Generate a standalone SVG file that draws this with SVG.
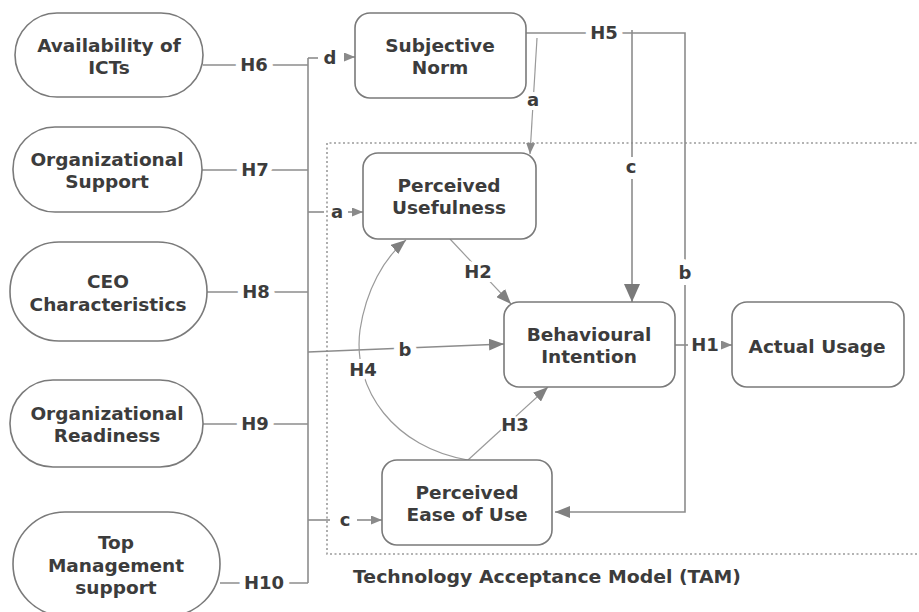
<svg xmlns="http://www.w3.org/2000/svg" width="919" height="612" viewBox="0 0 919 612">
<defs>
<style>
.n{fill:#fff;stroke:#7a7a7a;stroke-width:1.6}
.t{font-family:"DejaVu Sans","Liberation Sans",sans-serif;font-weight:bold;font-size:18.5px;fill:#3c3c3c;text-anchor:middle}
.l{font-family:"DejaVu Sans","Liberation Sans",sans-serif;font-weight:bold;font-size:18px;fill:#3c3c3c;text-anchor:middle;stroke:#fff;stroke-width:12px;paint-order:stroke;stroke-linejoin:round}
.c{fill:none;stroke:#8c8c8c;stroke-width:1.6}
.thin{fill:none;stroke:#9a9a9a;stroke-width:1.2}
.dot{fill:none;stroke:#9a9a9a;stroke-width:1.6;stroke-dasharray:2 2.5}
</style>
<marker id="am" markerUnits="userSpaceOnUse" markerWidth="16" markerHeight="12" refX="15" refY="6" orient="auto"><path d="M0,0 L15,6 L0,12 z" fill="#808080"/></marker>
<marker id="as" markerUnits="userSpaceOnUse" markerWidth="12" markerHeight="10" refX="11" refY="4.5" orient="auto"><path d="M0,0 L11,4.5 L0,9 z" fill="#8a8a8a"/></marker>
<marker id="ab" markerUnits="userSpaceOnUse" markerWidth="19" markerHeight="16" refX="18" refY="8" orient="auto"><path d="M0,0 L18,8 L0,16 z" fill="#7a7a7a"/></marker>
</defs>
<rect width="919" height="612" fill="#fff"/>

<g id="tam-boundary">
<path class="dot" d="M930,143 H327 V554 H930"/>
<text class="t" x="547" y="583" textLength="388" lengthAdjust="spacingAndGlyphs">Technology Acceptance Model (TAM)</text>
</g>

<g id="connectors">
<path class="c" d="M308,58 V583" stroke-width="2"/>
<path class="c" d="M203,65 H308"/>
<path class="c" d="M202,170 H308"/>
<path class="c" d="M207,292 H308"/>
<path class="c" d="M203,424 H308"/>
<path class="c" d="M220,583 H308"/>
<text class="l" x="254" y="71">H6</text>
<text class="l" x="255" y="176">H7</text>
<text class="l" x="256" y="298">H8</text>
<text class="l" x="255" y="430">H9</text>
<text class="l" x="264" y="589">H10</text>
<path class="c" d="M308,58 H318"/>
<text class="l" x="330" y="64" style="stroke-width:6px">d</text>
<path class="c" d="M344,57 H355" marker-end="url(#as)"/>
<path class="c" d="M308,212 H324"/>
<text class="l" x="337" y="218" style="stroke-width:6px">a</text>
<path class="c" d="M348,212 H363" marker-end="url(#as)"/>
<path class="c" d="M308,352 L504,344" marker-end="url(#am)"/>
<text class="l" x="405" y="356">b</text>
<path class="c" d="M308,520 H330"/>
<text class="l" x="345" y="526" style="stroke-width:6px">c</text>
<path class="c" d="M357,520 H382" marker-end="url(#as)"/>
<path class="c" d="M526,33 H685 V512 H555" marker-end="url(#am)"/>
<path class="c" d="M632,30 V302" stroke-width="2" marker-end="url(#ab)"/>
<text class="l" x="604" y="39">H5</text>
<text class="l" x="631" y="173">c</text>
<text class="l" x="685" y="279">b</text>
<path class="thin" d="M537,38 L530,154" marker-end="url(#as)"/>
<text class="l" x="533" y="106" style="stroke-width:8px">a</text>
<path class="thin" d="M450,239 L511,304" marker-end="url(#am)"/>
<text class="l" x="478" y="278" style="stroke-width:8px">H2</text>
<path class="thin" d="M468,460 L548,387" marker-end="url(#am)"/>
<text class="l" x="515" y="431" style="stroke-width:4px">H3</text>
<path class="thin" d="M468,460 C395,448 352,390 360,330 C366,290 384,258 406,240" marker-end="url(#am)"/>
<text class="l" x="363" y="376" style="stroke-width:8px">H4</text>
<path class="c" d="M675,345 H688"/>
<text class="l" x="705" y="351" style="stroke-width:6px">H1</text>
<path class="c" d="M722,345 H732" marker-end="url(#as)"/>
</g>

<g id="availability-of-icts">
<rect class="n" x="15" y="13" width="188" height="84" rx="42"/>
<text class="t" x="109" y="52">Availability of</text>
<text class="t" x="109" y="74">ICTs</text>
</g>
<g id="organizational-support">
<rect class="n" x="13" y="127" width="189" height="85" rx="42"/>
<text class="t" x="107" y="166">Organizational</text>
<text class="t" x="107" y="188">Support</text>
</g>
<g id="ceo-characteristics">
<rect class="n" x="10" y="242" width="197" height="99" rx="49"/>
<text class="t" x="108" y="288">CEO</text>
<text class="t" x="108" y="311">Characteristics</text>
</g>
<g id="organizational-readiness">
<rect class="n" x="10" y="380" width="193" height="87" rx="43"/>
<text class="t" x="107" y="420">Organizational</text>
<text class="t" x="107" y="442">Readiness</text>
</g>
<g id="top-management-support">
<rect class="n" x="13" y="512" width="207" height="104" rx="52"/>
<text class="t" x="116" y="549">Top</text>
<text class="t" x="116" y="572">Management</text>
<text class="t" x="116" y="594">support</text>
</g>
<g id="subjective-norm">
<rect class="n" x="355" y="13" width="171" height="85" rx="15"/>
<text class="t" x="440" y="52">Subjective</text>
<text class="t" x="440" y="74">Norm</text>
</g>
<g id="perceived-usefulness">
<rect class="n" x="363" y="153" width="173" height="86" rx="15"/>
<text class="t" x="449" y="192">Perceived</text>
<text class="t" x="449" y="214">Usefulness</text>
</g>
<g id="behavioural-intention">
<rect class="n" x="504" y="302" width="171" height="85" rx="15"/>
<text class="t" x="589" y="341">Behavioural</text>
<text class="t" x="589" y="363">Intention</text>
</g>
<g id="actual-usage">
<rect class="n" x="732" y="302" width="172" height="85" rx="15"/>
<text class="t" x="817" y="353">Actual Usage</text>
</g>
<g id="perceived-ease-of-use">
<rect class="n" x="382" y="460" width="170" height="85" rx="15"/>
<text class="t" x="467" y="499">Perceived</text>
<text class="t" x="467" y="521">Ease of Use</text>
</g>
</svg>
